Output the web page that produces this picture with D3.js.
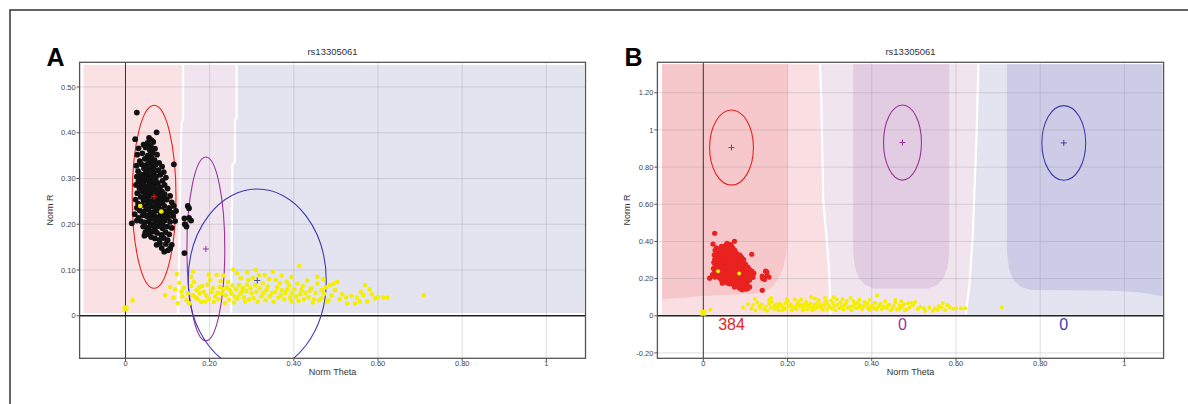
<!DOCTYPE html>
<html><head><meta charset="utf-8">
<script src="https://cdn.jsdelivr.net/npm/d3@7"></script>
<style>body{margin:0;background:#fff}svg{display:block}text{font-family:"Liberation Sans",Arial,sans-serif}</style>
</head><body><svg id="c" width="1188" height="404"></svg>
<script>
// ---------------- data ----------------
const snpName = "rs13305061";
const panelLetters = ["A", "B"];
const xTicks = [0, 0.2, 0.4, 0.6, 0.8, 1];
const xTickLabels = ["0", "0.20", "0.40", "0.60", "0.80", "1"];
const yTicksA = [0, 0.1, 0.2, 0.3, 0.4, 0.5];
const yTickLabelsA = ["0", "0.10", "0.20", "0.30", "0.40", "0.50"];
const yTicksB = [-0.2, 0, 0.2, 0.4, 0.6, 0.8, 1, 1.2];
const yTickLabelsB = ["-0.20", "0", "0.20", "0.40", "0.60", "0.80", "1", "1.20"];
// cluster ellipses: [theta, R, radiusTheta, radiusR]
const clustersA = [[0.068, 0.260, 0.052, 0.200], [0.191, 0.146, 0.045, 0.201], [0.313, 0.077, 0.164, 0.200]];
const clustersB = [[0.067, 0.905, 0.052, 0.202], [0.473, 0.932, 0.045, 0.202], [0.856, 0.930, 0.052, 0.201]];
const countsB = ["384", "0", "0"];
// samples in the AA cluster (black in A, red in B)
const calledPoints = [
[0.027,0.444],[0.074,0.401],[0.023,0.386],[0.056,0.389],[0.062,0.384],[0.052,0.378],[0.066,0.380],[0.060,0.372],[0.043,0.374],
[0.031,0.366],[0.048,0.368],[0.058,0.362],[0.070,0.365],[0.064,0.356],[0.028,0.352],[0.040,0.355],[0.053,0.350],[0.062,0.346],
[0.075,0.352],[0.046,0.343],[0.034,0.338],[0.057,0.336],[0.069,0.340],[0.080,0.334],[0.050,0.330],[0.026,0.328],[0.038,0.331],
[0.044,0.322],[0.063,0.326],[0.072,0.330],[0.087,0.326],[0.115,0.331],[0.055,0.320],[0.030,0.316],[0.049,0.313],[0.060,0.318],
[0.067,0.312],[0.078,0.318],[0.091,0.314],[0.036,0.309],[0.027,0.304],[0.042,0.302],[0.054,0.307],[0.062,0.300],[0.073,0.305],
[0.083,0.308],[0.096,0.302],[0.048,0.296],[0.031,0.294],[0.038,0.288],[0.057,0.292],[0.068,0.296],[0.077,0.290],[0.088,0.295],
[0.065,0.284],[0.045,0.284],[0.025,0.286],[0.093,0.286],[0.033,0.279],[0.051,0.277],[0.059,0.281],[0.071,0.276],[0.082,0.281],
[0.100,0.278],[0.040,0.272],[0.062,0.270],[0.087,0.271],[0.028,0.268],[0.047,0.266],[0.056,0.262],[0.075,0.265],[0.093,0.266],
[0.106,0.262],[0.036,0.260],[0.068,0.258],[0.024,0.254],[0.043,0.252],[0.052,0.256],[0.061,0.250],[0.081,0.256],[0.088,0.249],
[0.098,0.254],[0.110,0.248],[0.073,0.247],[0.030,0.245],[0.038,0.242],[0.048,0.240],[0.057,0.244],[0.066,0.238],[0.078,0.241],
[0.092,0.240],[0.104,0.236],[0.115,0.240],[0.027,0.236],[0.034,0.230],[0.044,0.228],[0.054,0.232],[0.062,0.226],[0.072,0.230],
[0.083,0.224],[0.096,0.228],[0.108,0.226],[0.120,0.229],[0.041,0.220],[0.022,0.222],[0.050,0.218],[0.058,0.214],[0.068,0.220],
[0.077,0.215],[0.088,0.218],[0.101,0.215],[0.113,0.218],[0.031,0.214],[0.015,0.202],[0.037,0.207],[0.046,0.204],[0.055,0.206],
[0.064,0.200],[0.074,0.207],[0.084,0.203],[0.093,0.208],[0.106,0.205],[0.118,0.207],[0.027,0.208],[0.042,0.195],[0.051,0.192],
[0.060,0.197],[0.070,0.190],[0.079,0.196],[0.088,0.191],[0.099,0.195],[0.110,0.192],[0.065,0.184],[0.047,0.182],[0.056,0.178],
[0.075,0.181],[0.085,0.177],[0.095,0.183],[0.104,0.178],[0.061,0.172],[0.045,0.175],[0.070,0.169],[0.081,0.166],[0.091,0.170],
[0.100,0.165],[0.082,0.158],[0.074,0.155],[0.096,0.157],[0.106,0.147],[0.092,0.140],[0.086,0.148],[0.101,0.143],[0.110,0.155],
[0.140,0.213],[0.151,0.235],[0.151,0.214],[0.145,0.195],[0.140,0.137],[0.156,0.208],[0.141,0.200],[0.148,0.240],
[0.047,0.310],[0.052,0.298],[0.059,0.288],[0.064,0.306],[0.053,0.283],[0.069,0.286],[0.058,0.274],[0.049,0.268],[0.066,0.264],
[0.078,0.272],[0.054,0.246],[0.071,0.252],[0.062,0.240],[0.050,0.234],[0.075,0.234],[0.058,0.222],[0.085,0.232],[0.066,0.212],
[0.079,0.208],[0.045,0.256],[0.084,0.262],[0.072,0.296],[0.040,0.278],[0.035,0.298],[0.092,0.258],[0.089,0.212],[0.097,0.222],
[0.061,0.334],[0.054,0.342],[0.066,0.322],[0.043,0.290],[0.056,0.266],[0.083,0.246],[0.069,0.198],[0.057,0.186],[0.088,0.200],
[0.102,0.230]
];
// uncalled samples (yellow)
const uncalledPoints = [
[0.017,0.034],[0.122,0.091],[0.106,0.063],[0.118,0.058],[0.094,0.045],[0.114,0.039],[0.124,0.028],[0.133,0.053],[0.135,0.042],
[0.145,0.034],[0.156,0.085],[0.156,0.065],[0.169,0.056],[0.167,0.040],[0.177,0.049],[0.182,0.065],[0.189,0.031],[0.201,0.078],
[0.205,0.052],[0.213,0.042],[0.217,0.089],[0.224,0.063],[0.229,0.049],[0.236,0.028],[0.244,0.074],[0.248,0.056],[0.256,0.101],
[0.260,0.042],[0.270,0.067],[0.276,0.052],[0.284,0.031],[0.292,0.078],[0.300,0.049],[0.308,0.067],[0.317,0.089],[0.323,0.042],
[0.413,0.109],[0.331,0.089],[0.326,0.071],[0.335,0.056],[0.343,0.042],[0.357,0.078],[0.356,0.052],[0.367,0.071],[0.369,0.045],
[0.383,0.074],[0.384,0.058],[0.395,0.085],[0.396,0.049],[0.395,0.031],[0.405,0.042],[0.418,0.056],[0.424,0.036],[0.438,0.055],
[0.448,0.036],[0.466,0.056],[0.466,0.038],[0.482,0.034],[0.486,0.067],[0.503,0.074],[0.494,0.070],[0.524,0.040],[0.527,0.027],
[0.537,0.043],[0.545,0.027],[0.557,0.031],[0.559,0.052],[0.569,0.067],[0.574,0.031],[0.585,0.047],[0.593,0.038],[0.612,0.040],
[0.622,0.040],[0.709,0.045],
[0.128,0.072],[0.139,0.061],[0.148,0.049],[0.152,0.027],[0.160,0.045],[0.163,0.074],[0.172,0.036],[0.175,0.062],[0.180,0.030],
[0.186,0.052],[0.192,0.044],[0.195,0.068],[0.198,0.037],[0.208,0.060],[0.210,0.030],[0.219,0.050],[0.221,0.036],[0.226,0.076],
[0.232,0.058],[0.238,0.045],[0.240,0.062],[0.246,0.035],[0.252,0.048],[0.254,0.066],[0.258,0.029],[0.263,0.058],[0.266,0.038],
[0.272,0.047],[0.274,0.082],[0.279,0.060],[0.281,0.040],[0.287,0.054],[0.289,0.068],[0.294,0.036],[0.297,0.060],[0.303,0.082],
[0.305,0.038],[0.311,0.052],[0.314,0.030],[0.319,0.060],[0.328,0.050],[0.333,0.034],[0.338,0.064],[0.341,0.080],[0.348,0.049],
[0.352,0.030],[0.360,0.062],[0.363,0.040],[0.372,0.056],[0.377,0.036],[0.380,0.050],[0.389,0.066],[0.391,0.040],[0.401,0.058],
[0.408,0.070],[0.411,0.033],[0.415,0.047],[0.421,0.065],[0.428,0.050],[0.432,0.077],[0.435,0.040],[0.442,0.060],[0.445,0.029],
[0.452,0.050],[0.456,0.070],[0.460,0.034],[0.472,0.048],[0.476,0.062],[0.479,0.030],[0.490,0.044],[0.498,0.056],[0.509,0.036],
[0.515,0.047],[0.550,0.039],[0.565,0.045],[0.580,0.058],[0.600,0.041],[0.265,0.093],[0.232,0.088],[0.289,0.095],[0.350,0.096],
[0.371,0.088],[0.310,0.100],[0.161,0.096],[0.198,0.090],[0.456,0.085],[0.470,0.080]
];
const originPoint = [[0.000, 0.016]];
const uncalledInCluster = [[0.035, 0.240], [0.085, 0.228]];

// genotype call regions (theta, R polygons)
const regionsA_AA = [[-0.1,0.006],[-0.1,0.548],[0.137,0.548],[0.137,0.43],[0.133,0.42],[0.125,0.006]];
const regionsA_AB = [[0.125,0.006],[0.133,0.42],[0.137,0.43],[0.137,0.548],[0.264,0.548],[0.264,0.432],[0.26,0.425],[0.26,0.337],[0.254,0.33],[0.251,0.006]];
const regionsA_BB = [[0.251,0.006],[0.254,0.33],[0.26,0.337],[0.26,0.425],[0.264,0.432],[0.264,0.548],[1.09,0.548],[1.09,0.006]];
const boundariesA = [
  [[0.125,0.006],[0.133,0.42],[0.137,0.43],[0.137,0.548]],
  [[0.251,0.006],[0.254,0.33],[0.26,0.337],[0.26,0.425],[0.264,0.432],[0.264,0.548]]
];
const boundaryB1 = [[0.302,0.006],[0.299,0.23],[0.293,0.41],[0.285,0.62],[0.280,1.18],[0.277,1.354]];
const boundaryB2 = [[0.623,0.006],[0.632,0.17],[0.640,0.44],[0.649,0.98],[0.653,1.354]];
const coreB_AA = [[-0.098,0.088],[-0.098,1.354],[0.2,1.354],[0.2,0.41],[0.197,0.33],[0.19,0.26],[0.18,0.205],[0.165,0.158],[0.145,0.130],[0.12,0.118],[0.0,0.106]];
const coreB_AB = [[0.356,1.354],[0.356,0.34],[0.36,0.26],[0.37,0.2],[0.385,0.165],[0.405,0.147],[0.535,0.147],[0.555,0.165],[0.57,0.2],[0.58,0.26],[0.584,0.34],[0.584,1.354]];
const coreB_BB = [[0.721,1.354],[0.721,0.34],[0.726,0.25],[0.737,0.19],[0.755,0.155],[0.78,0.138],[0.95,0.136],[1.03,0.128],[1.09,0.105],[1.09,1.354]];

// ---------------- drawing ----------------
const svg = d3.select("#c");
svg.append("path").attr("d", "M10,404V10H1188").attr("fill", "none").attr("stroke", "#333").attr("stroke-width", 1.5);

const colors = {AA: "#fae2e4", AB: "#f0e4ee", BB: "#e4e4f0", AAlight: "#f9dfe2", coreAA: "#f6c8cc", coreAB: "#e2cce2", coreBB: "#cdcce6",
  red: "#e8221e", purple: "#9a329a", blue: "#3c3cae"};

function drawPanel(o) {
  const x = d3.scaleLinear().domain([-0.109, 1.093]).range(o.xr);
  const y = d3.scaleLinear().domain(o.yd).range([358.3, 62.3]);
  const g = svg.append("g");
  const cid = "clip" + o.letter;
  svg.append("clipPath").attr("id", cid).append("rect")
    .attr("x", o.xr[0]).attr("y", 62.3).attr("width", o.xr[1] - o.xr[0]).attr("height", 296);
  const pg = g.append("g").attr("clip-path", `url(#${cid})`);
  const line = d3.line().x(d => x(d[0])).y(d => y(d[1]));
  const poly = d => line(d) + "Z";
  o.regions.forEach(r => pg.append("path").attr("d", poly(r.pts)).attr("fill", r.color));
  o.boundaries.forEach(b => pg.append("path").attr("d", line(b)).attr("fill", "none").attr("stroke", "#fff").attr("stroke-width", 2.2));
  // grid
  pg.selectAll(".gx").data(xTicks.filter(v => v !== 0)).join("line")
    .attr("x1", d => x(d)).attr("x2", d => x(d)).attr("y1", 62.3).attr("y2", 358.3)
    .attr("stroke", "rgba(140,140,150,0.28)").attr("stroke-width", 1);
  pg.selectAll(".gy").data(o.yt.filter(v => v !== 0)).join("line")
    .attr("x1", o.xr[0]).attr("x2", o.xr[1]).attr("y1", d => y(d)).attr("y2", d => y(d))
    .attr("stroke", "rgba(140,140,150,0.28)").attr("stroke-width", 1);
  // zero axes
  pg.append("line").attr("x1", x(0)).attr("x2", x(0)).attr("y1", 62.3).attr("y2", 358.3).attr("stroke", "#333").attr("stroke-width", 1);
  pg.append("line").attr("x1", o.xr[0]).attr("x2", o.xr[1]).attr("y1", y(0)).attr("y2", y(0)).attr("stroke", "#222").attr("stroke-width", 1.6);
  // ellipses
  const ecol = [colors.red, colors.purple, colors.blue];
  pg.selectAll(".el").data(o.clusters).join("ellipse")
    .attr("cx", d => x(d[0])).attr("cy", d => y(d[1]))
    .attr("rx", d => x(d[0] + d[2]) - x(d[0])).attr("ry", d => y(d[1]) - y(d[1] + d[3]))
    .attr("fill", "none").attr("stroke", (d, i) => ecol[i]).attr("stroke-width", 1.1);
  // points
  pg.selectAll(".yp").data(uncalledPoints).join("circle")
    .attr("cx", d => x(d[0])).attr("cy", d => y(d[1])).attr("r", o.yr).attr("fill", "#f4ee00");
  pg.selectAll(".op").data(originPoint).join("rect")
    .attr("x", d => x(d[0]) - 3).attr("y", d => y(d[1]) - 3).attr("width", 6).attr("height", 6).attr("fill", "#f4ee00");
  pg.selectAll(".cp").data(calledPoints).join("circle")
    .attr("cx", d => x(d[0])).attr("cy", d => y(d[1])).attr("r", o.cr).attr("fill", o.calledColor);
  pg.selectAll(".yc").data(uncalledInCluster).join("circle")
    .attr("cx", d => x(d[0])).attr("cy", d => y(d[1])).attr("r", o.yr).attr("fill", "#f4ee00");
  // centre markers
  o.clusters.forEach((d, i) => {
    const cx = x(d[0]), cy = y(d[1]);
    pg.append("path").attr("d", `M${cx - 3},${cy}H${cx + 3}M${cx},${cy - 3}V${cy + 3}`)
      .attr("stroke", i === 2 && o.letter === "A" ? "#4a4a8a" : ecol[i]).attr("stroke-width", 1);
  });
  if (o.counts) {
    g.selectAll(".cnt").data(o.counts).join("text")
      .attr("x", (d, i) => x(o.clusters[i][0])).attr("y", 330)
      .attr("text-anchor", "middle").attr("font-size", 16).attr("fill", (d, i) => ecol[i]).text(d => d);
  }
  // frame
  g.append("rect").attr("x", o.xr[0]).attr("y", 62.3).attr("width", o.xr[1] - o.xr[0]).attr("height", 296)
    .attr("fill", "none").attr("stroke", "#555").attr("stroke-width", 1.3);
  // ticks
  g.selectAll(".ty").data(o.yt).join("line")
    .attr("x1", o.xr[0] - 3).attr("x2", o.xr[0]).attr("y1", d => y(d)).attr("y2", d => y(d)).attr("stroke", "#555");
  g.selectAll(".tyl").data(o.yt).join("text")
    .attr("x", o.xr[0] - 4).attr("y", d => y(d) + 2.7).attr("text-anchor", "end")
    .attr("font-size", 7.5).attr("fill", "#444").text((d, i) => o.ytl[i]);
  g.selectAll(".tx").data(xTicks).join("line")
    .attr("x1", d => x(d)).attr("x2", d => x(d)).attr("y1", 358.3).attr("y2", 361.3).attr("stroke", "#555");
  g.selectAll(".txl").data(xTicks).join("text")
    .attr("x", d => x(d)).attr("y", 366).attr("text-anchor", "middle")
    .attr("font-size", 7.5).attr("fill", "#444").text((d, i) => xTickLabels[i]);
  const cxm = (o.xr[0] + o.xr[1]) / 2;
  g.append("text").attr("x", cxm).attr("y", 55).attr("text-anchor", "middle").attr("font-size", 9.5).attr("fill", "#333").text(snpName);
  g.append("text").attr("x", cxm).attr("y", 375).attr("text-anchor", "middle").attr("font-size", 9).attr("fill", "#333").text("Norm Theta");
  g.append("text").attr("transform", `translate(${o.xr[0] - 27},210) rotate(-90)`).attr("text-anchor", "middle")
    .attr("font-size", 9).attr("fill", "#333").text("Norm R");
  g.append("text").attr("x", o.xr[0] - 33).attr("y", 66).attr("font-size", 25).attr("font-weight", "bold").attr("fill", "#000").text(o.letter);
}

drawPanel({letter: panelLetters[0], xr: [79.6, 585.5], yd: [-0.093, 0.554], yt: yTicksA, ytl: yTickLabelsA,
  clusters: clustersA, calledColor: "#111", cr: 2.9, yr: 2.3,
  regions: [{pts: regionsA_AA, color: colors.AA}, {pts: regionsA_AB, color: colors.AB}, {pts: regionsA_BB, color: colors.BB}],
  boundaries: boundariesA});

drawPanel({letter: panelLetters[1], xr: [657.4, 1163.6], yd: [-0.229, 1.364], yt: yTicksB, ytl: yTickLabelsB,
  clusters: clustersB, calledColor: "#e8221e", cr: 2.6, yr: 2.0, counts: countsB,
  regions: [
    {pts: [[-0.098,0.006],[-0.098,1.354]].concat(boundaryB1.slice().reverse()), color: colors.AAlight},
    {pts: boundaryB1.concat(boundaryB2.slice().reverse()), color: colors.AB},
    {pts: boundaryB2.concat([[1.09,1.354],[1.09,0.006]]), color: colors.BB},
    {pts: coreB_AA, color: colors.coreAA},
    {pts: coreB_AB, color: colors.coreAB},
    {pts: coreB_BB, color: colors.coreBB}
  ],
  boundaries: [boundaryB1, boundaryB2]});
</script></body></html>
